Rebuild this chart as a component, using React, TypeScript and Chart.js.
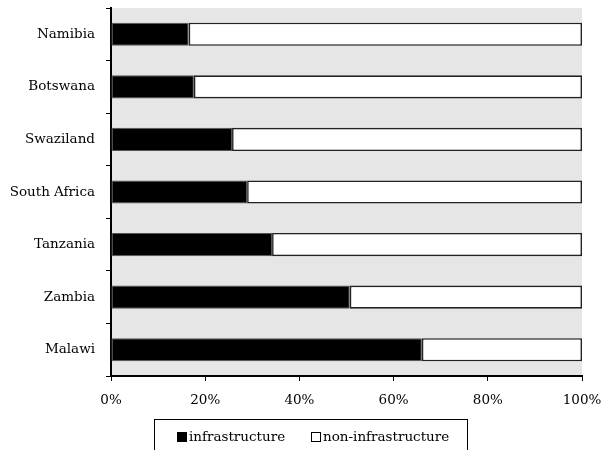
import React, { useEffect, useRef } from "react";
import { Chart, registerables } from "chart.js";

Chart.register(...registerables);

const countries = ["Namibia", "Botswana", "Swaziland", "South Africa", "Tanzania", "Zambia", "Malawi"];
const infrastructure = [16.5, 17.6, 25.7, 28.9, 34.2, 50.7, 66.0];
const nonInfrastructure = [83.5, 82.4, 74.3, 71.1, 65.8, 49.3, 34.0];
const seriesNames = ["infrastructure", "non-infrastructure"];
const xTickValues = [0, 20, 40, 60, 80, 100];

const FONT_FAMILY = "'DejaVu Serif', serif";
const FONT_SIZE = 13.5;

const bgPlugin = {
  id: "plotBg",
  beforeDraw(chart: any) {
    const { ctx, chartArea } = chart;
    ctx.save();
    ctx.fillStyle = "#e6e6e6";
    ctx.fillRect(chartArea.left, chartArea.top, chartArea.right - chartArea.left, chartArea.bottom - chartArea.top);
    ctx.restore();
  },
};

const legendPlugin = {
  id: "boxLegend",
  afterDraw(chart: any) {
    const { ctx } = chart;
    ctx.save();
    ctx.strokeStyle = "#000";
    ctx.lineWidth = 1;
    ctx.strokeRect(154.5, 419.5, 313, 40);
    ctx.font = `${FONT_SIZE}px ${FONT_FAMILY}`;
    ctx.textBaseline = "middle";
    ctx.textAlign = "left";
    ctx.fillStyle = "#000";
    ctx.fillRect(177, 432, 10, 10);
    ctx.fillText(seriesNames[0], 189, 437);
    ctx.fillStyle = "#fff";
    ctx.fillRect(311, 432, 9, 9);
    ctx.strokeStyle = "#000";
    ctx.strokeRect(311.5, 432.5, 9, 9);
    ctx.fillStyle = "#000";
    ctx.fillText(seriesNames[1], 323, 437);
    ctx.restore();
  },
};

const zeroPad = (s: any) => {
  s.paddingTop = 0;
  s.paddingBottom = 0;
  s.paddingLeft = 0;
  s.paddingRight = 0;
};

export default function App() {
  const ref = useRef<HTMLCanvasElement>(null);
  useEffect(() => {
    if (!ref.current) return;
    const chart = new Chart(ref.current, {
      type: "bar",
      data: {
        labels: countries,
        datasets: [
          {
            label: seriesNames[0],
            data: infrastructure,
            backgroundColor: "#000",
            borderColor: "#555",
            borderWidth: 1,
            borderSkipped: false,
            barPercentage: 0.44,
            categoryPercentage: 1,
          },
          {
            label: seriesNames[1],
            data: nonInfrastructure,
            backgroundColor: "#fff",
            borderColor: "#222",
            borderWidth: 1.6,
            borderSkipped: false,
            barPercentage: 0.44,
            categoryPercentage: 1,
          },
        ],
      },
      options: {
        indexAxis: "y",
        responsive: false,
        animation: false,
        layout: { padding: { top: 8, right: 19, bottom: 0, left: 0 } },
        plugins: {
          legend: { display: false },
          tooltip: { enabled: false },
        },
        scales: {
          x: {
            stacked: true,
            min: 0,
            max: 100,
            afterFit: (s: any) => {
              s.height = 74;
              zeroPad(s);
            },
            afterBuildTicks: (s: any) => {
              s.ticks = xTickValues.map((v) => ({ value: v }));
            },
            ticks: {
              callback: (v: any) => v + "%",
              color: "#000",
              padding: 11,
              maxRotation: 0,
              font: { family: FONT_FAMILY, size: FONT_SIZE },
            },
            grid: { drawOnChartArea: false, color: "#000", tickLength: 5, lineWidth: 1 },
            border: { color: "#000", width: 2 },
          },
          y: {
            stacked: true,
            afterFit: (s: any) => {
              s.width = 111;
              zeroPad(s);
            },
            ticks: {
              color: "#000",
              padding: 11,
              font: { family: FONT_FAMILY, size: FONT_SIZE },
            },
            grid: { offset: true, drawOnChartArea: false, color: "#000", tickLength: 5, lineWidth: 1 },
            border: { color: "#000", width: 2 },
          },
        },
      },
      plugins: [bgPlugin, legendPlugin],
    } as any);
    return () => chart.destroy();
  }, []);
  return (
    <div style={{ position: "fixed", left: 0, top: 0, width: 601, height: 450 }}>
      <canvas ref={ref} width={601} height={450} style={{ display: "block" }} />
    </div>
  );
}
